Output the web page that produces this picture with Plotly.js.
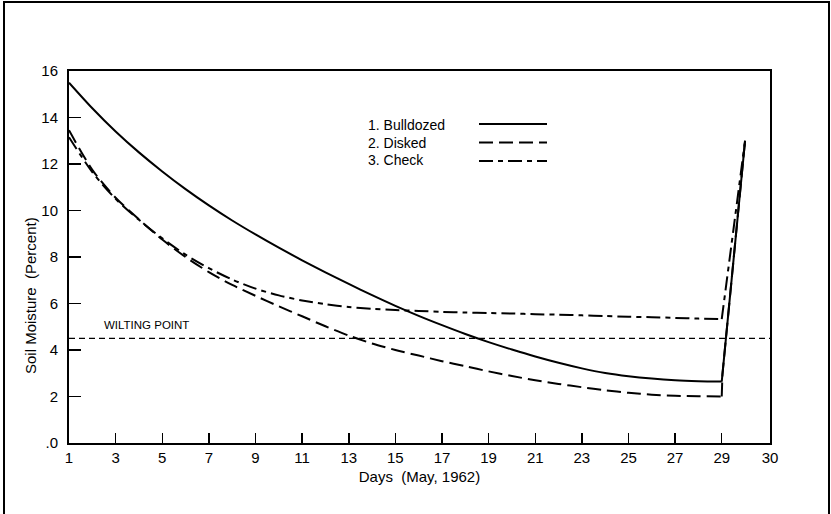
<!DOCTYPE html>
<html>
<head>
<meta charset="utf-8">
<script src="https://cdn.plot.ly/plotly-3.0.1.min.js"></script>
<style>
  html, body { margin: 0; padding: 0; background: #fff; }
  #chart { width: 831px; height: 514px; }
</style>
</head>
<body>
<div id="chart"></div>
<script>
// ---- data ----
const bulldozedDays = [1,2,3,4,5,6,7,8,9,10,11,12,13,14,15,16,17,18,19,20,21,22,23,24,25,26,27,28,29,30];
const bulldozed = [15.5,14.4,13.4,12.5,11.68,10.92,10.22,9.57,8.97,8.4,7.86,7.34,6.84,6.36,5.9,5.47,5.07,4.69,4.34,4.02,3.72,3.45,3.21,3.01,2.87,2.77,2.7,2.66,2.64,13.0];

const diskedDays = [1,2,3,4,5,6,7,8,9,10,11,12,13,14,15,16,17,18,19,20,21,22,23,24,25,26,27,28,29,29.03,30];
const disked = [13.45,11.75,10.55,9.62,8.75,8.0,7.35,6.8,6.33,5.88,5.45,5.02,4.62,4.28,4.0,3.76,3.52,3.3,3.08,2.88,2.7,2.54,2.4,2.27,2.16,2.08,2.03,2.01,2.0,2.95,13.0];

const checkDays = [1,2,3,4,5,6,7,8,9,10,11,12,13,14,15,16,17,18,19,20,21,22,23,24,25,26,27,28,29,30];
const check = [13.15,11.65,10.5,9.6,8.8,8.1,7.52,7.03,6.64,6.35,6.13,5.97,5.85,5.77,5.72,5.68,5.64,5.61,5.59,5.57,5.54,5.52,5.49,5.46,5.43,5.41,5.38,5.35,5.33,13.0];

const wiltingPoint = 4.5;
const lastDecayDay = 29;   // after this day the soil was re-wetted (steep rise)

const xTickVals = [1,3,5,7,9,11,13,15,17,19,21,23,25,27,29,31.07];
const xTickText = ["1","3","5","7","9","11","13","15","17","19","21","23","25","27","29","30"];
const yTickVals = [0,2,4,6,8,10,12,14,16];
const yTickText = [".0","2","4","6","8","10","12","14","16"];

const seriesNames = ["1. Bulldozed", "2. Disked", "3. Check"];

// ---- styles ----
const FONT = "Liberation Sans, Arial, sans-serif";
const dashBull = "solid";
const dashDisk = "14px,6px";
const dashCheck = "14px,5px,5px,5px";

function splitTraces(xs, ys, name, dash) {
  const k = xs.indexOf(lastDecayDay);
  return [
    {x: xs.slice(0, k + 1), y: ys.slice(0, k + 1), mode: "lines", name: name,
     line: {color: "#000", width: 2, dash: dash, shape: "spline", smoothing: 0.8}},
    {x: xs.slice(k), y: ys.slice(k), mode: "lines", name: name,
     line: {color: "#000", width: 2, dash: dash}}
  ];
}

const traces = [].concat(
  splitTraces(bulldozedDays, bulldozed, seriesNames[0], dashBull),
  splitTraces(diskedDays, disked, seriesNames[1], dashDisk),
  splitTraces(checkDays, check, seriesNames[2], dashCheck)
);

// plot area in px: x 69..770, y 71..443
const L = 69, R = 770, T = 71, B = 443;
const W = R - L, H = B - T;
const px = v => (v - L) / W;
const py = v => (B - v) / H;

const legendRows = [
  {text: seriesNames[0], ty: 125, ly: 124, dash: dashBull},
  {text: seriesNames[1], ty: 143, ly: 142.5, dash: dashDisk},
  {text: seriesNames[2], ty: 160, ly: 161, dash: dashCheck}
];

const shapes = [
  {type: "line", xref: "paper", yref: "y", x0: 0, x1: 1, y0: wiltingPoint, y1: wiltingPoint,
   line: {color: "#000", width: 1.2, dash: "6px,4px"}},
  {type: "rect", xref: "paper", yref: "paper", x0: px(4), x1: px(829), y0: py(530), y1: py(2),
   line: {color: "#000", width: 2}, fillcolor: "rgba(0,0,0,0)", layer: "above"}
];
const annotations = [
  {xref: "paper", yref: "paper", x: px(30), y: py(296), xanchor: "center", yanchor: "middle",
   text: "Soil Moisture  (Percent)",
   textangle: -90, showarrow: false, font: {family: FONT, size: 15, color: "#000"}},
  {xref: "paper", yref: "y", x: px(102), y: wiltingPoint, yshift: 13, xanchor: "left",
   text: "WILTING POINT", showarrow: false, font: {family: FONT, size: 11.5, color: "#000"}}
];
legendRows.forEach(r => {
  annotations.push({xref: "paper", yref: "paper", x: px(366), y: py(r.ty), xanchor: "left",
    yanchor: "middle", text: r.text, showarrow: false,
    font: {family: FONT, size: 14, color: "#000"}});
  shapes.push({type: "line", xref: "paper", yref: "paper", x0: px(479), x1: px(547),
    y0: py(r.ly), y1: py(r.ly), line: {color: "#000", width: 2, dash: r.dash}});
});

const layout = {
  width: 831, height: 514,
  margin: {l: L, r: 831 - R, t: T, b: 514 - B, pad: 0},
  paper_bgcolor: "#fff", plot_bgcolor: "#fff",
  showlegend: false,
  font: {family: FONT, size: 15, color: "#000"},
  xaxis: {
    range: [1, 31.07], tickmode: "array", tickvals: xTickVals, ticktext: xTickText,
    ticks: "inside", ticklen: 10, tickwidth: 1.5, tickcolor: "#000",
    showgrid: false, zeroline: false, showline: true, linecolor: "#000", linewidth: 2,
    mirror: true, tickfont: {family: FONT, size: 15, color: "#000"},
    title: {text: "Days  (May, 1962)", font: {family: FONT, size: 15, color: "#000"}, standoff: 6}
  },
  yaxis: {
    range: [0, 16], tickmode: "array", tickvals: yTickVals, ticktext: yTickText,
    ticks: "inside", ticklen: 12, tickwidth: 1.5, tickcolor: "#000",
    showgrid: false, zeroline: false, showline: true, linecolor: "#000", linewidth: 2,
    mirror: true, tickfont: {family: FONT, size: 15, color: "#000"}, ticklabelstandoff: 6
  },
  shapes: shapes,
  annotations: annotations
};

Plotly.newPlot("chart", traces, layout, {staticPlot: true, displayModeBar: false});
</script>
</body>
</html>
